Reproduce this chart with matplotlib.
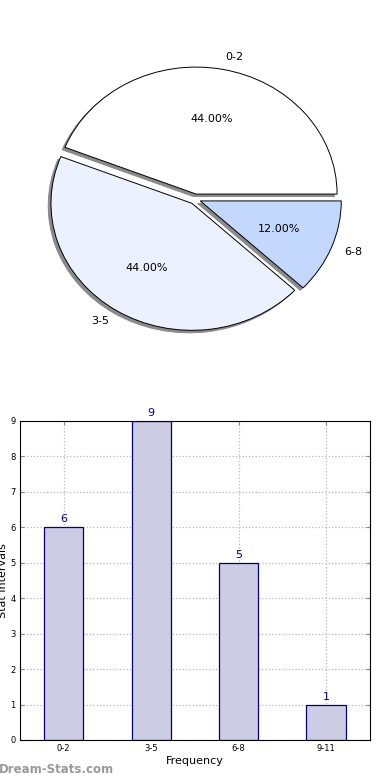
import matplotlib
matplotlib.use("Agg")
import matplotlib.pyplot as plt

# pie data
pie_labels = ["0-2", "3-5", "6-8"]
pie_values = [44, 44, 12]
pie_colors = ["#ffffff", "#ebf1fe", "#c4d8fe"]

# bar data
bar_labels = ["0-2", "3-5", "6-8", "9-11"]
bar_values = [6, 9, 5, 1]
y_ticks = list(range(0, 10))

fig = plt.figure(figsize=(3.9, 7.8), dpi=100)

# pie chart
ax1 = fig.add_axes([0.048, 0.5413, 0.904, 0.407])
wedges, texts, autotexts = ax1.pie(
    pie_values, labels=pie_labels, colors=pie_colors, explode=[0.04] * 3,
    autopct="%1.2f%%",
    shadow={"ox": -0.014, "oy": -0.014, "facecolor": "#8a8a8a",
            "edgecolor": "#8a8a8a", "alpha": 1},
    startangle=0,
    wedgeprops={"edgecolor": "black", "linewidth": 0.7},
    textprops={"fontsize": 8})
ax1.set_aspect("auto")
ax1.set_xlim(-1.25, 1.25)
ax1.set_ylim(-1.25, 1.25)
ax1.axis("off")

# bar chart
ax2 = fig.add_axes([0.0513, 0.0513, 0.897, 0.409])
x = range(len(bar_labels))
bars = ax2.bar(x, bar_values, width=0.45, color="#ccccE4",
               edgecolor="#000080", linewidth=0.9, zorder=2)
for xi, v in zip(x, bar_values):
    ax2.text(xi, v + 0.08, str(v), ha="center", va="bottom",
             color="#000080", fontsize=8)
ax2.set_xlim(-0.5, 3.5)
ax2.set_ylim(0, 9)
ax2.set_xticks(list(x))
ax2.set_xticklabels(bar_labels)
ax2.set_yticks(y_ticks)
ax2.tick_params(labelsize=6, direction="in", top=True, right=True,
                length=3, color="#888888", pad=3)
ax2.grid(True, linestyle=":", color="#b8b8b8", linewidth=0.9, zorder=0)
ax2.set_axisbelow(True)
ax2.set_xlabel("Frequency", fontsize=8, labelpad=2)
ax2.set_ylabel("Stat Intervals", fontsize=8)
ax2.yaxis.set_label_coords(-0.034, 0.5)

fig.text(-0.003, 0.005, "Dream-Stats.com", fontsize=8.5, color="#999999",
         fontweight="bold", ha="left", va="bottom")

fig.savefig("out.png", dpi=100)
